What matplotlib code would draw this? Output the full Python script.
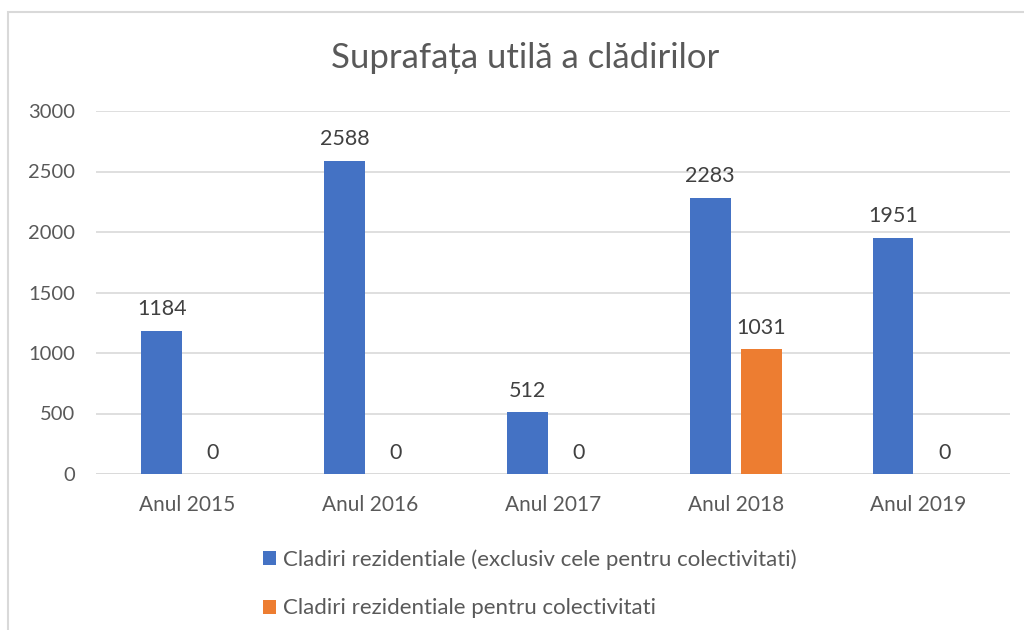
import numpy as np
import matplotlib.pyplot as plt
from matplotlib.patches import Rectangle

plt.rcParams['font.family'] = ['Lato', 'DejaVu Sans']

categories = ['Anul 2015', 'Anul 2016', 'Anul 2017', 'Anul 2018', 'Anul 2019']
rezidentiale = [1184, 2588, 512, 2283, 1951]
colectivitati = [0, 0, 0, 1031, 0]
series_names = ['Cladiri rezidentiale (exclusiv cele pentru colectivitati)',
                'Cladiri rezidentiale pentru colectivitati']
yticks = [0, 500, 1000, 1500, 2000, 2500, 3000]

W, H = 1024, 630
fig = plt.figure(figsize=(W/100, H/100), dpi=100)
txt = '#595959'

# chart frame (cut off on right / bottom like the screenshot)
fig.patches.append(Rectangle((8/W, -0.1), 1.2, 1 - 12/H + 0.1, transform=fig.transFigure,
                             fill=False, edgecolor='#D9D9D9', lw=1.5))

ax = fig.add_axes([96/W, 1 - 474/H, (1010-96)/W, (474-111)/H])
x = np.arange(len(categories))
w = 0.224
b1 = ax.bar(x - 0.14, rezidentiale, w, color='#4472C4', label=series_names[0], zorder=3)
b2 = ax.bar(x + 0.14, colectivitati, w, color='#ED7D31', label=series_names[1], zorder=3)
for bars in (b1, b2):
    for r in bars:
        ax.text(r.get_x() + r.get_width()/2, r.get_height() + 95, f'{int(r.get_height())}',
                ha='center', va='bottom', fontsize=15.5, color='#404040')

ax.set_xlim(-0.5, len(categories) - 0.5)
ax.set_ylim(0, 3000)
ax.set_yticks(yticks)
ax.set_xticks(x, categories)
ax.yaxis.grid(True, color='#D9D9D9', lw=1.2, zorder=0)
for s in ax.spines.values():
    s.set_visible(False)
ax.tick_params(length=0, labelsize=15, colors=txt)
ax.tick_params(axis='x', pad=15)
ax.tick_params(axis='y', pad=15, labelsize=14.5)
ax.axhline(0, color='#D9D9D9', lw=1.2, zorder=2)

fig.text(525/W, 1 - 58/H, 'Suprafața utilă a clădirilor', ha='center', va='center',
         fontsize=25, color=txt)

fig.legend(loc='upper left', bbox_to_anchor=(243/W, 1 - 529/H), frameon=False,
           fontsize=16, labelcolor=txt, handlelength=0.6, handleheight=0.6,
           handletextpad=0.3, labelspacing=1.3)

fig.savefig('out.png', dpi=100, facecolor='white')
